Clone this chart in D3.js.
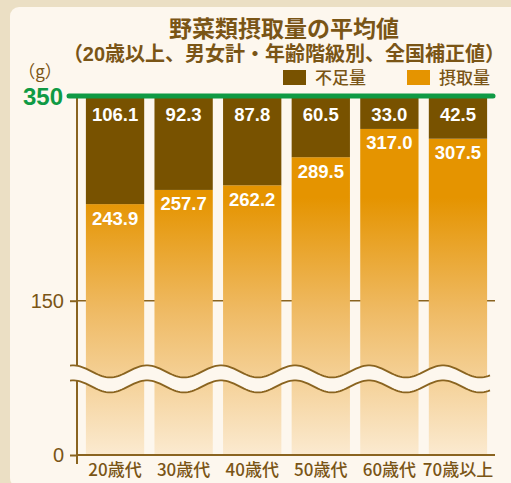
<!DOCTYPE html>
<html>
<head>
<meta charset="utf-8">
<script src="https://cdn.jsdelivr.net/npm/d3@7"></script>
<style>
  body { margin: 0; background: #ebdfc4; }
  svg { display: block; }
</style>
</head>
<body>
<div id="chart"></div>
<script>
// data
const ageGroups = ["20歳代", "30歳代", "40歳代", "50歳代", "60歳代", "70歳以上"];
const intake = [243.9, 257.7, 262.2, 289.5, 317.0, 307.5];   // 摂取量
const shortfall = [106.1, 92.3, 87.8, 60.5, 33.0, 42.5];     // 不足量
const yTicks = [0, 150];
const target = 350;
const breakValue = 74;
const titleLines = ["野菜類摂取量の平均値", "（20歳以上、男女計・年齢階級別、全国補正値）"];
const legendLabels = ["不足量", "摂取量"];

const width = 511, height = 483;
const brown = "#785200", orange = "#e59400", textBrown = "#7a5516", lineBrown = "#8a6420";
const panelColor = "#fdf7ee", green = "#0f9a44";
const numFont = "'Liberation Sans', Arial, 'Noto Sans CJK JP', sans-serif";
const jpFont = "'Noto Sans CJK JP', sans-serif";

const svg = d3.select("#chart").append("svg")
  .attr("width", width)
  .attr("height", height);

// outer background + panel
svg.append("rect").attr("width", width).attr("height", height).attr("fill", "#ebdfc4");
svg.append("rect")
  .attr("x", 10).attr("y", 7)
  .attr("width", 510).attr("height", 480)
  .attr("rx", 9)
  .attr("fill", panelColor);

const data = ageGroups.map((g, i) => ({ group: g, intake: intake[i], shortfall: shortfall[i] }));

const x = d3.scaleBand()
  .domain(ageGroups)
  .range([78, 495])
  .paddingInner(0.15)
  .paddingOuter(0.115);

const y = d3.scaleLinear()
  .domain([0, target])
  .range([455, 95]);

// gradient for intake bars
const defs = svg.append("defs");
const grad = defs.append("linearGradient")
  .attr("id", "intakeGrad")
  .attr("gradientUnits", "userSpaceOnUse")
  .attr("x1", 0).attr("x2", 0)
  .attr("y1", y(250)).attr("y2", y(0));
grad.append("stop").attr("offset", "0").attr("stop-color", orange);
grad.append("stop").attr("offset", "0.45").attr("stop-color", "#efbb66");
grad.append("stop").attr("offset", "1").attr("stop-color", "#fbead0");

// grid line at 150
svg.append("line")
  .attr("x1", 77).attr("x2", 495)
  .attr("y1", y(150)).attr("y2", y(150))
  .attr("stroke", lineBrown).attr("stroke-width", 1.5);

// bars
const bars = svg.append("g");
bars.selectAll("rect.intake")
  .data(data)
  .join("rect")
  .attr("class", "intake")
  .attr("x", d => x(d.group))
  .attr("width", x.bandwidth())
  .attr("y", d => y(d.intake))
  .attr("height", d => y(0) - y(d.intake))
  .attr("fill", "url(#intakeGrad)");

bars.selectAll("rect.short")
  .data(data)
  .join("rect")
  .attr("class", "short")
  .attr("x", d => x(d.group))
  .attr("width", x.bandwidth())
  .attr("y", d => y(d.intake + d.shortfall))
  .attr("height", d => y(d.intake) - y(d.intake + d.shortfall))
  .attr("fill", brown);

// value labels
const labels = svg.append("g")
  .attr("fill", "#fff")
  .attr("font-family", numFont)
  .attr("font-weight", "bold")
  .attr("font-size", 18.5)
  .attr("text-anchor", "middle");

labels.selectAll("text.short")
  .data(data)
  .join("text")
  .attr("x", d => x(d.group) + x.bandwidth() / 2)
  .attr("y", d => y(d.intake + d.shortfall) + 26)
  .text(d => d.shortfall.toFixed(1));

labels.selectAll("text.intake")
  .data(data)
  .join("text")
  .attr("x", d => x(d.group) + x.bandwidth() / 2)
  .attr("y", d => y(d.intake) + 20.5)
  .text(d => d.intake.toFixed(1));

// axis break (wavy band)
const period = 74, amp = 6, x0 = 70, x1 = 490;
const yc = y(breakValue);
const xs = d3.range(x0, x1 + 0.5, 2);
const wave = off => xs.map(v => [v, yc + off - amp * Math.cos(2 * Math.PI * (v - 73) / period)]);
const topWave = wave(-7.5), botWave = wave(7.5);
svg.append("path")
  .attr("d", d3.line()(topWave.concat(botWave.slice().reverse())) + "Z")
  .attr("fill", panelColor);

// y axis
const yAxis = svg.append("g")
  .attr("transform", "translate(77,0)")
  .call(d3.axisLeft(y).tickValues(yTicks).tickSize(7).tickPadding(6).tickFormat(d3.format("d")));
yAxis.select(".domain").remove();
yAxis.selectAll("line").attr("stroke", lineBrown).attr("stroke-width", 2);
yAxis.selectAll("text")
  .attr("fill", textBrown)
  .attr("font-family", numFont)
  .attr("font-size", 20);

// axis lines, split by the break
svg.append("line")
  .attr("x1", 77).attr("x2", 77)
  .attr("y1", y(target)).attr("y2", yc - 7.5 - amp * Math.cos(2 * Math.PI * (77 - 73) / period))
  .attr("stroke", lineBrown).attr("stroke-width", 2);
svg.append("line")
  .attr("x1", 77).attr("x2", 77)
  .attr("y1", yc + 7.5 - amp * Math.cos(2 * Math.PI * (77 - 73) / period)).attr("y2", 464)
  .attr("stroke", lineBrown).attr("stroke-width", 2);

// wave strokes
svg.selectAll("path.wave")
  .data([topWave, botWave])
  .join("path")
  .attr("class", "wave")
  .attr("d", d3.line())
  .attr("fill", "none")
  .attr("stroke", lineBrown)
  .attr("stroke-width", 1.8);

// x axis
const xAxis = svg.append("g")
  .attr("transform", `translate(0,${y(0)})`)
  .call(d3.axisBottom(x).tickSize(0).tickPadding(9));
xAxis.select(".domain")
  .attr("d", "M77,0H495")
  .attr("stroke", lineBrown)
  .attr("stroke-width", 2);
xAxis.selectAll("text")
  .attr("fill", textBrown)
  .attr("font-family", jpFont)
  .attr("font-weight", 500)
  .attr("font-size", 17);

// target line at 350
svg.append("line")
  .attr("x1", 69).attr("x2", 493)
  .attr("y1", y(target) + 1).attr("y2", y(target) + 1)
  .attr("stroke", green)
  .attr("stroke-width", 5)
  .attr("stroke-linecap", "round");
svg.append("text")
  .attr("x", 63).attr("y", y(target) + 1)
  .attr("dy", "0.36em")
  .attr("text-anchor", "end")
  .attr("fill", green)
  .attr("font-family", numFont)
  .attr("font-weight", "bold")
  .attr("font-size", 24)
  .text(target);

// unit
svg.append("text")
  .attr("x", 40).attr("y", 78)
  .attr("text-anchor", "middle")
  .attr("fill", textBrown)
  .attr("font-family", jpFont)
  .attr("font-size", 17)
  .text("（g）");

// titles
svg.append("text")
  .attr("x", 284).attr("y", 37)
  .attr("text-anchor", "middle")
  .attr("fill", textBrown)
  .attr("font-family", jpFont)
  .attr("font-weight", "bold")
  .attr("font-size", 23)
  .text(titleLines[0]);
svg.append("text")
  .attr("x", 284).attr("y", 61)
  .attr("text-anchor", "middle")
  .attr("fill", textBrown)
  .attr("font-family", numFont)
  .attr("font-weight", "bold")
  .attr("font-size", 20)
  .text(titleLines[1]);

// legend
const legend = svg.append("g");
const legendItems = legend.selectAll("g")
  .data([{ label: legendLabels[0], color: brown, x: 283 }, { label: legendLabels[1], color: orange, x: 407 }])
  .join("g")
  .attr("transform", d => `translate(${d.x},70)`);
legendItems.append("rect")
  .attr("width", 23).attr("height", 15)
  .attr("fill", d => d.color);
legendItems.append("text")
  .attr("x", 32).attr("y", 14)
  .attr("fill", textBrown)
  .attr("font-family", jpFont)
  .attr("font-weight", 500)
  .attr("font-size", 17)
  .text(d => d.label);
</script>
</body>
</html>
